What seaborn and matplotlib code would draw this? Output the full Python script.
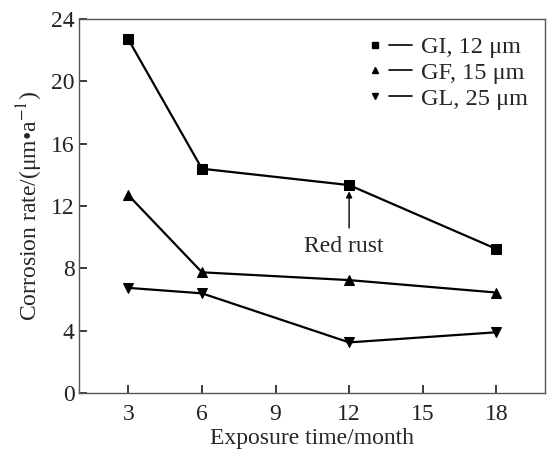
import numpy as np
import pandas as pd
import matplotlib
matplotlib.use('Agg')
import matplotlib.pyplot as plt
import seaborn as sns
from matplotlib.lines import Line2D
from matplotlib.legend_handler import HandlerTuple

months = [3, 6, 12, 18]
gi = [22.7, 14.4, 13.35, 9.25]
gf = [12.7, 7.75, 7.25, 6.45]
gl = [6.75, 6.4, 3.25, 3.9]
labels = ['GI, 12 \u03bcm', 'GF, 15 \u03bcm', 'GL, 25 \u03bcm']
markers = ['s', '^', 'v']

df = pd.DataFrame({
    'month': months * 3,
    'rate': gi + gf + gl,
    'series': [labels[0]] * 4 + [labels[1]] * 4 + [labels[2]] * 4,
})

sns.set_theme(style='ticks')
plt.rcParams['font.family'] = ['Liberation Serif', 'DejaVu Serif']
plt.rcParams['mathtext.fontset'] = 'stix'

fig, ax = plt.subplots(figsize=(5.47, 4.57), dpi=100)
sns.lineplot(data=df, x='month', y='rate', hue='series', style='series',
             markers=markers, dashes=False, palette=['black'] * 3,
             markersize=6.5, linewidth=1.6, markeredgecolor='black',
             legend=False, ax=ax)

ax.set_xlim(1, 20)
ax.set_ylim(0, 24)
ax.set_xticks([3, 6, 9, 12, 15, 18])
ax.set_yticks([0, 4, 8, 12, 16, 20, 24])
ax.tick_params(direction='in', labelsize=17, colors='#222222', length=6,
               top=False, right=False)
ax.tick_params(axis='x', pad=8)
for s in ax.spines.values():
    s.set_color('#555555')
    s.set_linewidth(1.0)
ax.set_xlabel('Exposure time/month', fontsize=17, labelpad=2)
ax.set_ylabel('Corrosion rate/(\u03bcm\u2022a$^{-1}$)', fontsize=17, labelpad=4)

# red rust marker: label below the GI point at 12 months
ax.text(11.8, 9.4, 'Red rust', ha='center', va='center', fontsize=17)
ax.annotate('', xy=(12, 12.95), xytext=(12, 10.6),
            arrowprops=dict(arrowstyle='-|>', color='black', lw=1,
                            shrinkA=0, shrinkB=0, mutation_scale=9))

handles = []
for m in markers:
    mk = Line2D([], [], marker=m, color='black', linestyle='none', markersize=5)
    ln = Line2D([], [], color='black', linewidth=1.2)
    handles.append((mk, ln))
ax.legend(handles, labels, handler_map={tuple: HandlerTuple(ndivide=None, pad=0.1)},
          loc='upper right', frameon=False, fontsize=17.5, handlelength=2.0,
          handletextpad=0.4, labelspacing=0.15, borderaxespad=0.3)

plt.subplots_adjust(left=0.145, right=0.997, top=0.958, bottom=0.14)
fig.savefig('out.png', dpi=100)
